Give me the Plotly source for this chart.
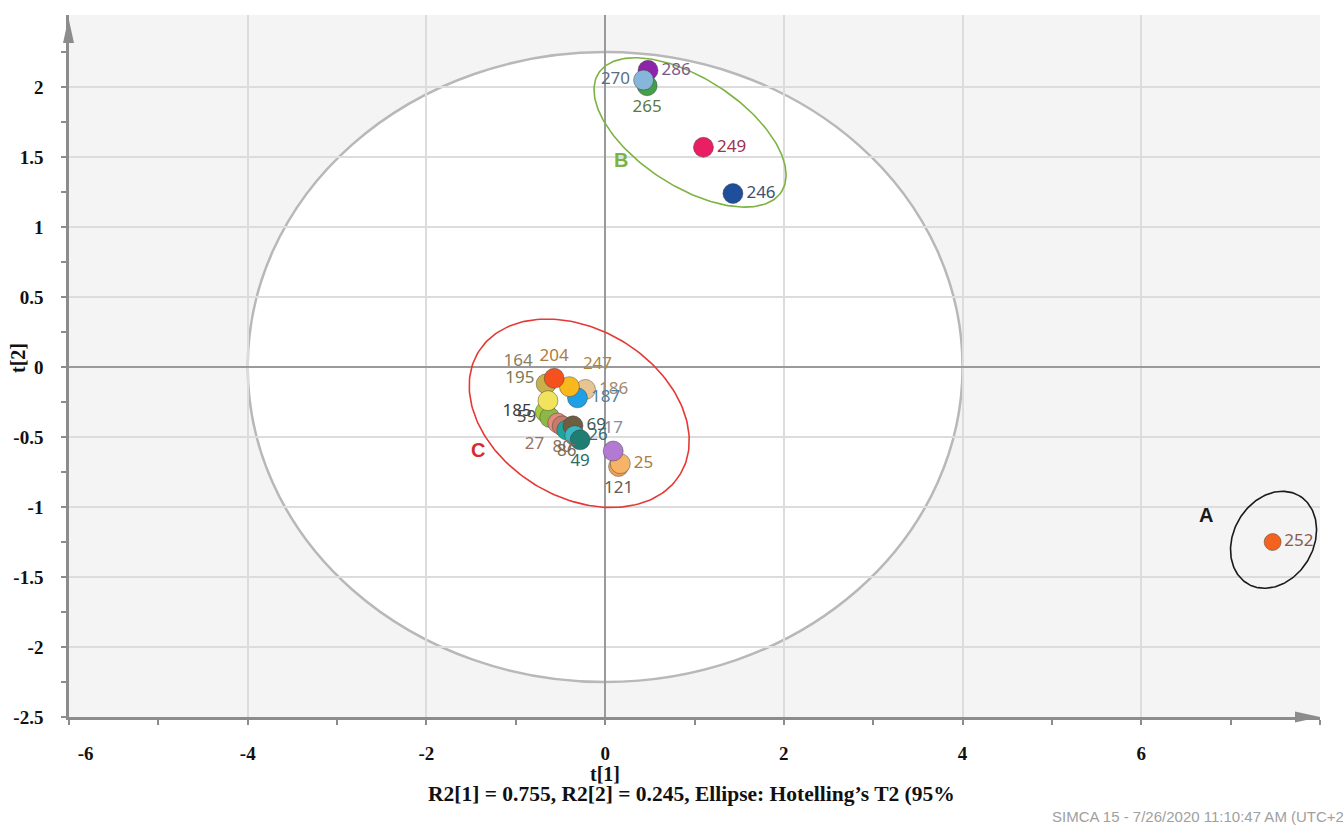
import numpy as np
import plotly.graph_objects as go

# ---- scores (t[1], t[2]) per observation ----
samples = ["164", "185", "59", "195", "27", "80", "86", "69", "26", "49",
           "186", "187", "247", "204", "121", "25", "17",
           "286", "265", "270", "249", "246",
           "252"]
t1 = [-0.66, -0.67, -0.62, -0.64, -0.53, -0.48, -0.43, -0.36, -0.34, -0.28,
      -0.22, -0.31, -0.40, -0.57, 0.15, 0.17, 0.09,
      0.48, 0.47, 0.43, 1.10, 1.43,
      7.47]
t2 = [-0.12, -0.32, -0.36, -0.24, -0.40, -0.42, -0.45, -0.42, -0.49, -0.52,
      -0.16, -0.22, -0.14, -0.08, -0.71, -0.69, -0.60,
      2.12, 2.01, 2.05, 1.57, 1.24,
      -1.25]
marker_colors = ["#C9B04A", "#A9CC3A", "#8DB845", "#F2E35C", "#E58A7C", "#C97B6B",
                 "#21A39B", "#6E5E3F", "#3BB7C4", "#1F7D72", "#E7C593", "#1E9FE6",
                 "#F9B81B", "#F4511E", "#F0A050", "#F7B466", "#B27AD3",
                 "#8E24AA", "#43A047", "#86B6DA", "#E91E63", "#1F4E9A",
                 "#F4621F"]
label_colors = ["#8A7E5E", "#3A3A3A", "#4A4A3A", "#7D7A50", "#A07060", "#8A7060",
                "#7A6A55", "#3D5A50", "#3D6A70", "#2F6A66", "#A08A70", "#4D7FA0",
                "#B08540", "#B07A40", "#6A5A55", "#B07A40", "#8A8AA8",
                "#7B5A8A", "#5D7A45", "#5A6F86", "#A0304F", "#3D5070",
                "#8A5A50"]
label_pos = ["top left", "middle left", "middle left", "top left", "bottom left",
             "bottom center", "bottom center", "middle right", "middle right",
             "bottom center", "middle right", "middle right", "top right",
             "top center", "bottom center", "middle right", "top center",
             "middle right", "bottom center", "middle left", "middle right",
             "middle right", "middle right"]
marker_sizes = [20] * 22 + [17]

# ---- axes ----
x_range = [-6.0, 8.0]
y_range = [-2.5, 2.515]
x_ticks = [-6, -4, -2, 0, 2, 4, 6]
y_ticks = [-2.5, -2, -1.5, -1, -0.5, 0, 0.5, 1, 1.5, 2]
x_minor = list(range(-6, 9))
y_minor = [v / 4 for v in range(-10, 10)]

W, H = 1343, 826
M = dict(l=69, r=23, t=15, b=109)
PW, PH = W - M["l"] - M["r"], H - M["t"] - M["b"]
px_x = PW / (x_range[1] - x_range[0])
px_y = PH / (y_range[1] - y_range[0])


def ellipse(cx, cy, a_px, b_px, angle_deg, n=200):
    """Ellipse centred in data units, with semi-axes in screen pixels and
    the major axis tilted angle_deg (positive = rising to the right)."""
    t = np.linspace(0, 2 * np.pi, n)
    th = np.deg2rad(angle_deg)
    u = a_px * np.cos(t)
    v = b_px * np.sin(t)
    dx = u * np.cos(th) - v * np.sin(th)
    dy = u * np.sin(th) + v * np.cos(th)
    return cx + dx / px_x, cy + dy / px_y


def paper_pt(px, py):
    """Screen pixel -> paper fraction."""
    return (px - M["l"]) / PW, (H - M["b"] - py) / PH


def triangle_path(pts):
    p = [paper_pt(*q) for q in pts]
    return "M {} {} L {} {} L {} {} Z".format(p[0][0], p[0][1], p[1][0], p[1][1],
                                              p[2][0], p[2][1])


fig = go.Figure()

# group outlines
groups = [
    (-0.29, -0.33, 118, 84, -31, "#E53935"),   # C
    (0.95, 1.676, 109, 54, -33, "#7CB342"),    # B
    (7.48, -1.234, 51, 40, 60, "#1A1A1A"),     # A
]
for cx, cy, a, b, ang, col in groups:
    ex, ey = ellipse(cx, cy, a, b, ang)
    fig.add_trace(go.Scatter(x=ex, y=ey, mode="lines",
                             line=dict(color=col, width=1.6),
                             hoverinfo="skip", showlegend=False))

fig.add_trace(go.Scatter(
    x=t1, y=t2, mode="markers+text", text=samples,
    textposition=label_pos,
    textfont=dict(family="Noto Sans", size=17, color=label_colors),
    marker=dict(size=marker_sizes, color=marker_colors, opacity=1,
                line=dict(color="rgba(60,60,60,0.45)", width=1)),
    cliponaxis=False, showlegend=False))

# Hotelling's T2 95% ellipse (white interior under the grid)
fig.add_shape(type="circle", xref="x", yref="y", x0=-4.0, x1=4.0, y0=-2.25, y1=2.25,
              fillcolor="white", line=dict(color="#B8B8B8", width=2.5), layer="below")

# axis arrowheads
fig.add_shape(type="path", xref="paper", yref="paper",
              path=triangle_path([(63, 43), (74, 43), (68.5, 18)]),
              fillcolor="#8C8C8C", line=dict(width=0), layer="above")
fig.add_shape(type="path", xref="paper", yref="paper",
              path=triangle_path([(1295, 711.5), (1295, 722.5), (1320, 717)]),
              fillcolor="#8C8C8C", line=dict(width=0), layer="above")

# first x label is nudged off the vertical axis line
x_ticktext = [str(v) for v in x_ticks]
x_ticktext[0] = "\u00a0" * 7 + x_ticktext[0]

tick_font = dict(family="Liberation Serif", size=19, color="#111111", weight="bold")
fig.update_xaxes(range=x_range, tickvals=x_ticks, ticktext=x_ticktext,
                 ticks="outside", ticklen=5, tickwidth=1.5, tickcolor="#8C8C8C",
                 minor=dict(tickvals=x_minor, ticks="outside", ticklen=5,
                            tickwidth=1.5, tickcolor="#8C8C8C", showgrid=False),
                 showgrid=True, gridcolor="#DCDCDC", gridwidth=1.5,
                 zeroline=True, zerolinecolor="#9A9A9A", zerolinewidth=2,
                 showline=True, linecolor="#8C8C8C", linewidth=2.5,
                 tickfont=tick_font, ticklabelstandoff=12)
fig.update_yaxes(range=y_range, tickvals=y_ticks, ticktext=[f"{v:g}" for v in y_ticks],
                 ticks="outside", ticklen=5, tickwidth=1.5, tickcolor="#8C8C8C",
                 minor=dict(tickvals=y_minor, ticks="outside", ticklen=5,
                            tickwidth=1.5, tickcolor="#8C8C8C", showgrid=False),
                 showgrid=True, gridcolor="#DCDCDC", gridwidth=1.5,
                 zeroline=True, zerolinecolor="#9A9A9A", zerolinewidth=2,
                 showline=True, linecolor="#8C8C8C", linewidth=2.5,
                 tickfont=tick_font, ticklabelstandoff=14)

# group letters
for txt, gx, gy, col in [("A", 6.72, -1.06, "#1A1A1A"), ("B", 0.18, 1.48, "#7CB342"),
                         ("C", -1.42, -0.59, "#D32F2F")]:
    fig.add_annotation(x=gx, y=gy, text=f"<b>{txt}</b>", showarrow=False,
                       font=dict(family="Liberation Sans", size=20, color=col))

tx, ty = paper_pt(18, 358)
fig.add_annotation(xref="paper", yref="paper", x=tx, y=ty, xanchor="center",
                   yanchor="middle", text="<b>t[2]</b>", textangle=-90,
                   showarrow=False,
                   font=dict(family="Liberation Serif", size=20, color="#111111"))
fig.add_annotation(x=0, yref="paper", y=paper_pt(0, 774)[1], xanchor="center",
                   yanchor="middle", text="<b>t[1]</b>", showarrow=False,
                   font=dict(family="Liberation Serif", size=20, color="#111111"))
fig.add_annotation(x=0.97, yref="paper", y=paper_pt(0, 794)[1], xanchor="center",
                   yanchor="middle",
                   text="<b>R2[1] = 0.755, R2[2] = 0.245, Ellipse: Hotelling’s T2 (95%</b>",
                   showarrow=False,
                   font=dict(family="Liberation Serif", size=21.5, color="#111111"))
fig.add_annotation(x=4.98, yref="paper", y=paper_pt(0, 816)[1], xanchor="left",
                   yanchor="middle",
                   text="SIMCA 15 - 7/26/2020 11:10:47 AM (UTC+2", showarrow=False,
                   font=dict(family="Liberation Sans", size=15, color="#A0A0A0"))

fig.update_layout(width=W, height=H, margin=M, plot_bgcolor="#F4F4F4",
                  paper_bgcolor="white", showlegend=False)

fig.write_html("out.html")
